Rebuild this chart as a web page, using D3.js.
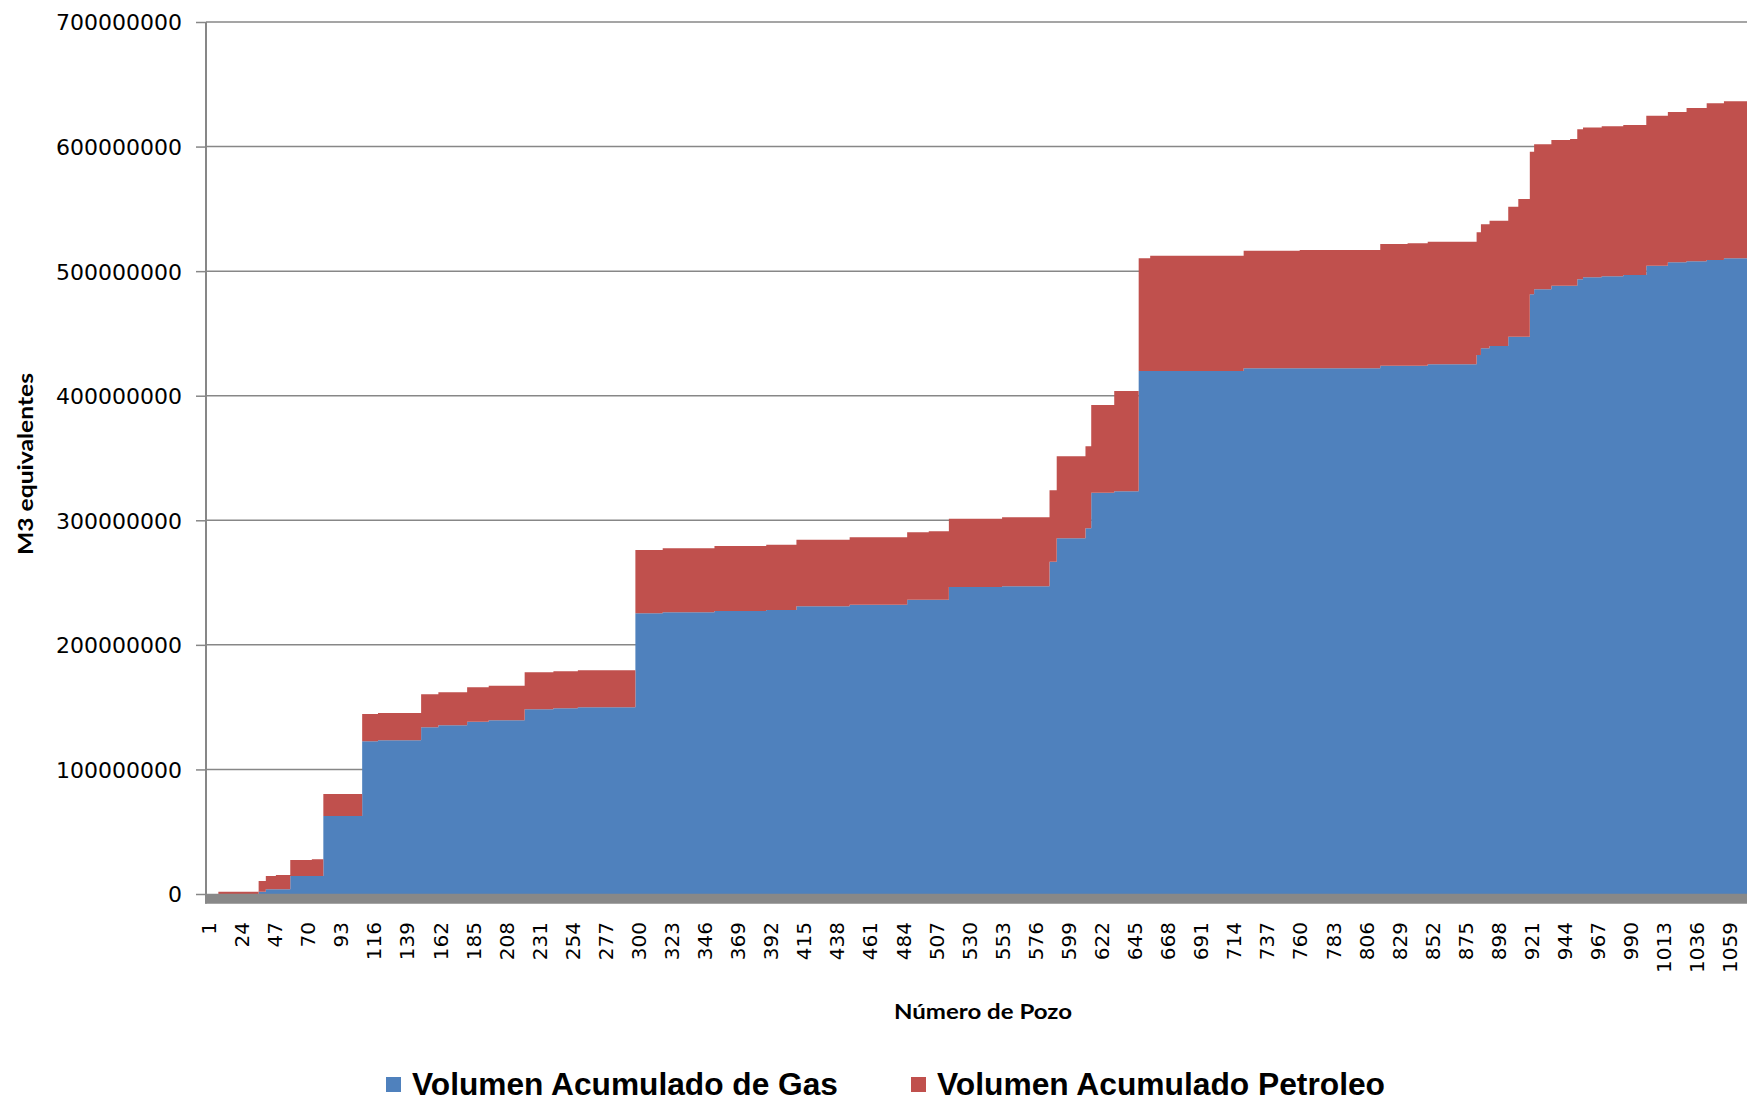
<!DOCTYPE html>
<html>
<head>
<meta charset="utf-8">
<script src="https://cdn.jsdelivr.net/npm/d3@7"></script>
<style>
  body { margin: 0; background: #fff; }
</style>
</head>
<body>
<svg id="chart"></svg>
<script>
// Pozos where the cumulative volume steps up (values hold until the next pozo)
var pozos = [1, 8, 36, 41, 48, 58, 73, 81, 108, 119,
  149, 161, 181, 196, 221, 241, 258, 298, 317, 353,
  389, 410, 447, 487, 502, 516, 553, 586, 591, 611,
  615, 631, 648, 656, 721, 760, 816, 835, 849, 883,
  886, 892, 905, 912, 920, 923, 935, 948, 953, 957,
  970, 985, 1001, 1016, 1029, 1043, 1055, 1075];

// millones de m3 equivalentes
var gas = [0, 0, 1.8, 3.8, 3.8, 14.4, 14.4, 62.6, 122.6, 123.4,
  133.8, 135.4, 138.3, 139.4, 148.3, 149.1, 149.9, 225.3, 226.1, 227.2,
  228.0, 231.0, 232.2, 236.3, 236.3, 246.4, 247.0, 266.8, 285.5, 293.6,
  322.2, 323.3, 419.8, 419.8, 422.0, 422.0, 424.1, 424.1, 425.2, 432.7,
  438.1, 439.9, 447.4, 447.4, 481.4, 485.4, 488.3, 488.3, 493.5, 495.0,
  496.0, 497.0, 504.4, 507.1, 507.9, 509.0, 510.3, 510.3];

var petroleo = [0, 1.8, 8.6, 10.6, 11.5, 12.9, 13.5, 17.7, 21.9, 21.9,
  26.5, 26.5, 27.6, 27.8, 29.7, 29.7, 29.7, 50.9, 51.4, 52.2,
  52.4, 53.4, 54.1, 54.1, 54.9, 54.9, 55.4, 57.3, 65.9, 65.9,
  70.4, 80.5, 90.5, 92.6, 94.4, 95.0, 97.7, 98.3, 98.3, 98.5,
  99.5, 100.6, 104.3, 110.5, 114.5, 116.4, 117.0, 117.8, 120.4, 120.4,
  120.4, 120.4, 120.4, 120.7, 123.1, 125.7, 126.0, 126.0];

var yTicks = [0, 100000000, 200000000, 300000000, 400000000, 500000000, 600000000, 700000000];
var xTicks = [1, 24, 47, 70, 93, 116, 139, 162, 185, 208, 231, 254, 277, 300, 323, 346,
  369, 392, 415, 438, 461, 484, 507, 530, 553, 576, 599, 622, 645, 668, 691, 714,
  737, 760, 783, 806, 829, 852, 875, 898, 921, 944, 967, 990, 1013, 1036, 1059];

var series = ["Volumen Acumulado de Gas", "Volumen Acumulado Petroleo"];
var colors = ["#4f81bd", "#c0504d"];

var width = 1747, height = 1103;
var svg = d3.select("#chart").attr("width", width).attr("height", height);

var x = d3.scaleLinear().domain([1, 1075]).range([208.3, 1752.7]);
var y = d3.scaleLinear().domain([0, 700000000]).range([894, 22]);

var rows = pozos.map(function(p, i) {
  return { pozo: p, gas: gas[i] * 1e6, petroleo: petroleo[i] * 1e6 };
});
var stack = d3.stack().keys(["gas", "petroleo"]);
var layers = stack(rows);

// gridlines
svg.append("g").selectAll("line").data(yTicks.slice(1)).enter().append("line")
  .attr("x1", 206).attr("x2", width)
  .attr("y1", function(d) { return y(d); }).attr("y2", function(d) { return y(d); })
  .attr("stroke", "#878787").attr("stroke-width", 1.5);

var area = d3.area()
  .x(function(d) { return x(d.data.pozo); })
  .y0(function(d) { return y(d[0]); })
  .y1(function(d) { return y(d[1]); })
  .curve(d3.curveStepAfter);

svg.append("g").selectAll("path").data(layers).enter().append("path")
  .attr("d", area)
  .attr("fill", function(d, i) { return colors[i]; });

// thick floor line under the areas
svg.append("line")
  .attr("x1", 205).attr("x2", width)
  .attr("y1", y(0) + 4.8).attr("y2", y(0) + 4.8)
  .attr("stroke", "#888888").attr("stroke-width", 10);

// y axis
var yAxis = svg.append("g")
  .attr("transform", "translate(206,0)")
  .call(d3.axisLeft(y).tickValues(yTicks).tickSize(10).tickSizeOuter(0)
    .tickPadding(14).tickFormat(d3.format("d")));
yAxis.select(".domain").attr("stroke", "#878787").attr("stroke-width", 2)
  .attr("d", "M0," + (y(0) + 9.5) + "V" + y(700000000));
yAxis.selectAll(".tick line").attr("stroke", "#878787").attr("stroke-width", 1.5);
yAxis.selectAll("text").attr("font-family", "DejaVu Sans").attr("font-size", 22)
  .attr("fill", "#000").attr("dy", "0.36em");

// x axis
var xAxis = svg.append("g")
  .attr("transform", "translate(0," + (y(0) + 5) + ")")
  .call(d3.axisBottom(x).tickValues(xTicks).tickSize(0).tickSizeOuter(0)
    .tickFormat(d3.format("d")));
xAxis.select(".domain").remove();
xAxis.selectAll("text")
  .attr("transform", "rotate(-90)")
  .attr("text-anchor", "end")
  .attr("x", -23).attr("y", 0).attr("dy", "0.36em")
  .attr("font-family", "DejaVu Sans").attr("font-size", 20).attr("fill", "#000");

// titles
svg.append("text")
  .attr("x", 983).attr("y", 1019)
  .attr("text-anchor", "middle")
  .attr("font-family", "Lato").attr("font-weight", "bold").attr("font-size", 21)
  .attr("textLength", 178).attr("lengthAdjust", "spacingAndGlyphs")
  .text("Número de Pozo");

svg.append("text")
  .attr("transform", "translate(33,464) rotate(-90)")
  .attr("text-anchor", "middle")
  .attr("font-family", "Lato").attr("font-weight", "bold").attr("font-size", 21)
  .attr("textLength", 182).attr("lengthAdjust", "spacingAndGlyphs")
  .text("M3 equivalentes");

// legend
var legendX = [386, 911];
var legendLen = [426, 448];
var legend = svg.append("g").selectAll("g").data(series).enter().append("g")
  .attr("transform", function(d, i) { return "translate(" + legendX[i] + ",1077)"; });
legend.append("rect").attr("width", 15).attr("height", 15)
  .attr("fill", function(d, i) { return colors[i]; });
legend.append("text")
  .attr("x", 26).attr("y", 18)
  .attr("font-family", "Liberation Sans").attr("font-weight", "bold").attr("font-size", 31)
  .attr("textLength", function(d, i) { return legendLen[i]; })
  .attr("lengthAdjust", "spacingAndGlyphs")
  .text(function(d) { return d; });
</script>
</body>
</html>
